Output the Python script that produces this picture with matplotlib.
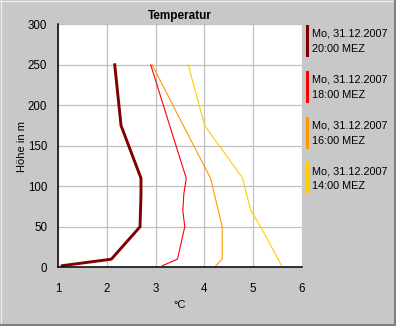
import matplotlib
matplotlib.use("Agg")
import matplotlib.pyplot as plt
from matplotlib.patches import Rectangle
from matplotlib.lines import Line2D

plt.rcParams['font.family'] = ['Liberation Sans', 'DejaVu Sans']
plt.rcParams['font.size'] = 8

# Messhoehen in m
hoehe = [2, 10, 50, 70, 90, 110, 175, 250]

# Temperaturprofile in °C
t_20 = [1.08, 2.09, 2.68, 2.69, 2.70, 2.70, 2.29, 2.16]
t_18 = [3.14, 3.45, 3.60, 3.56, 3.58, 3.63, 3.29, 2.90]
t_16 = [4.24, 4.37, 4.37, 4.29, 4.21, 4.13, 3.57, 2.93]
t_14 = [5.59, 5.52, 5.16, 4.96, 4.87, 4.79, 4.01, 3.67]

labels = ["Mo, 31.12.2007\n20:00 MEZ", "Mo, 31.12.2007\n18:00 MEZ",
          "Mo, 31.12.2007\n16:00 MEZ", "Mo, 31.12.2007\n14:00 MEZ"]
farben = ["#800000", "#ff0000", "#ff9900", "#ffcc00"]
breiten = [2.1, 0.8, 0.8, 0.8]

W, H = 396, 326
fig = plt.figure(figsize=(W / 100, H / 100), dpi=100)
fig.patch.set_facecolor("#c8c8c8")

def px(x, y):
    return x / W, 1 - y / H

# Rahmen: hell oben/links, dunkel unten/rechts
fig.add_artist(Line2D([0, 1], [1 - 0.5 / H, 1 - 0.5 / H], color="#f0f0f0", lw=0.8))
fig.add_artist(Line2D([0.5 / W, 0.5 / W], [0, 1], color="#f0f0f0", lw=0.8))
fig.add_artist(Line2D([0, 1], [1.0 / H, 1.0 / H], color="#808080", lw=1.5))
fig.add_artist(Line2D([1 - 1.0 / W, 1 - 1.0 / W], [0, 1], color="#808080", lw=1.5))

x0, x1 = 58.3, 301.5
y0, y1 = 24.3, 267.3
ax = fig.add_axes([x0 / W, 1 - y1 / H, (x1 - x0) / W, (y1 - y0) / H])
ax.set_facecolor("white")

for t, c, lw in zip([t_20, t_18, t_16, t_14], farben, breiten):
    ax.plot(t, hoehe, color=c, lw=lw, solid_joinstyle="miter")

ax.set_xlim(1, 6)
ax.set_ylim(0, 300)
ax.set_xticks(range(1, 7))
ax.set_yticks(range(0, 301, 50))
ax.grid(True, color="#c0c0c0", lw=0.9)
ax.set_axisbelow(True)
ax.tick_params(length=0, labelsize=8.3)
ax.tick_params(axis="x", pad=11)
ax.tick_params(axis="y", pad=8)
for s in ["top", "right"]:
    ax.spines[s].set_visible(False)
for s in ["left", "bottom"]:
    ax.spines[s].set_linewidth(1.1)
    ax.spines[s].set_color("black")

fig.text(*px(180, 16), "Temperatur", ha="center", va="center",
         fontweight="bold", fontsize=8.5)
fig.text(*px(22, 146), "Höhe in m", ha="center", va="center", rotation=90)
fig.text(*px(180, 305), "°C", ha="center", va="center")

# Legende rechts
for i, (lab, c) in enumerate(zip(labels, farben)):
    top = 25 + i * 45.8
    fig.add_artist(Rectangle(px(305.5, top + 32), 3.3 / W, 32 / H,
                             transform=fig.transFigure, color=c, lw=0))
    fig.text(*px(312.5, top + 16.5), lab, ha="left", va="center",
             linespacing=1.65, fontsize=7.8)

fig.savefig("out.png", dpi=100, facecolor=fig.get_facecolor())
